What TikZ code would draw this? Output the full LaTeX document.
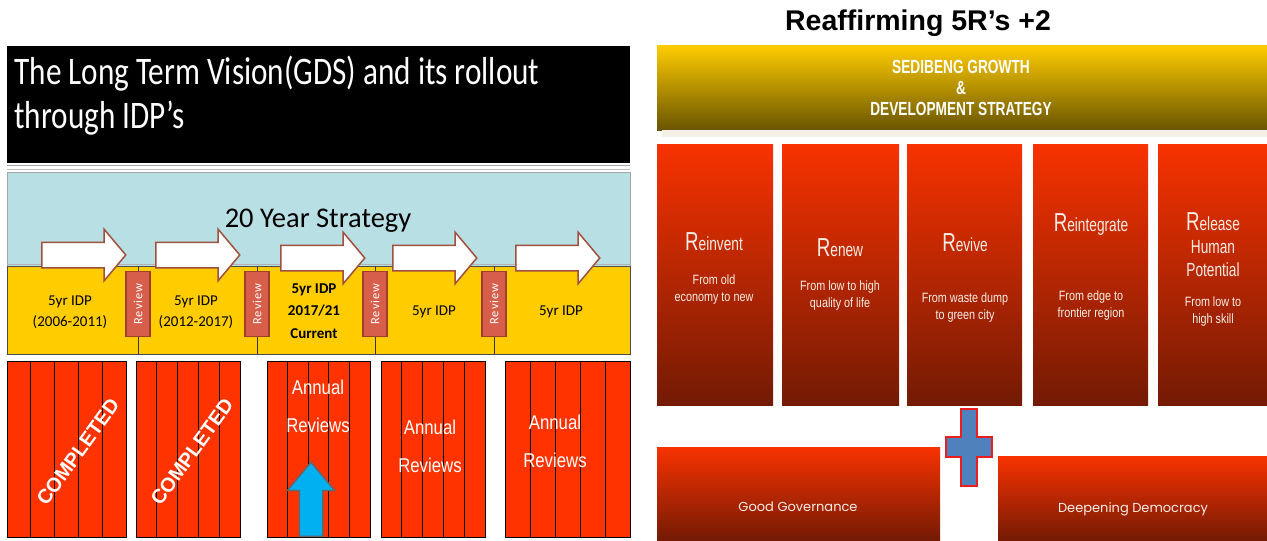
\documentclass[tikz,border=0pt]{standalone}
\usepackage{fontspec}
\usetikzlibrary{shapes.arrows}
\newfontfamily\calfont{Carlito}
\newfontfamily\calnarrow[FakeStretch=0.8]{Carlito}
\newfontfamily\calwide[LetterSpace=8]{Carlito}
\newfontfamily\arialfont{Liberation Sans}
\newfontfamily\narrowfont[FakeStretch=0.84]{Liberation Sans}
\newfontfamily\condfont[FakeStretch=0.72]{Liberation Sans}
\newfontfamily\subfont[FakeStretch=0.8]{Liberation Sans}
\newfontfamily\gothfont{Poppins}
\definecolor{skyband}{RGB}{184,223,227}
\definecolor{idpyellow}{RGB}{255,204,0}
\definecolor{reviewred}{RGB}{214,94,74}
\definecolor{reviewedge}{RGB}{160,62,46}
\definecolor{arrowedge}{RGB}{160,80,62}
\definecolor{blockred}{RGB}{255,51,0}
\definecolor{coltop}{RGB}{248,50,0}
\definecolor{colbottom}{RGB}{115,26,4}
\definecolor{goldtop}{RGB}{255,204,0}
\definecolor{goldbottom}{RGB}{105,84,0}
\definecolor{upblue}{RGB}{0,176,240}
\definecolor{plusblue}{RGB}{79,129,189}
\definecolor{plusedge}{RGB}{235,30,30}
\definecolor{beige}{RGB}{243,240,230}
\definecolor{softwhite}{RGB}{246,238,230}
\newcommand\rword[1]{{\fontsize{26}{26}\selectfont R}#1}
\tikzset{
  reviewbox/.style={draw=reviewedge, fill=reviewred, line width=1.5pt, rotate=90, minimum width=65pt, minimum height=24pt, inner sep=0pt, text=white, font=\calwide\fontsize{12.5}{12.5}\selectfont},
  idparrow/.style={single arrow, draw=arrowedge, fill=white, line width=1.5pt, minimum height=84pt, inner xsep=0pt, inner ysep=12pt, single arrow head extend=13pt, single arrow tip angle=100, anchor=tail},
  idptext/.style={font=\calfont\fontsize{15}{21}\selectfont, align=center},
  redblock/.style={draw=black, fill=blockred, line width=0.6pt},
  annual/.style={text=white, font=\narrowfont\fontsize{20}{38}\selectfont, align=center},
  done/.style={text=white, rotate=54, font=\arialfont\bfseries\fontsize{20}{20}\selectfont},
  rcol/.style={top color=coltop, bottom color=colbottom, minimum height=261pt, inner sep=0pt, anchor=north west},
  rhead/.style={text=softwhite, font=\condfont\fontsize{19}{23}\selectfont, align=center},
  rsub/.style={text=softwhite, font=\subfont\fontsize{13.5}{17}\selectfont, align=center},
  rwide/.style={top color=coltop, bottom color=colbottom, inner sep=0pt, anchor=north west},
  rwidetext/.style={text=softwhite, font=\gothfont\fontsize{13}{16}\selectfont}
}
\begin{document}
\begin{tikzpicture}[x=1pt, y=-1pt]
\useasboundingbox (0,0) rectangle (1267,541);
\node[fill=black, minimum width=623, minimum height=117, inner sep=0pt, anchor=north west] (visionbox) at (7,46) {};
\node[text=white, anchor=base west, font=\calnarrow\fontsize{39}{39}\selectfont] (visionline1) at (11,84) {The Long Term Vision(GDS) and its rollout};
\node[text=white, anchor=base west, font=\calnarrow\fontsize{39}{39}\selectfont] (visionline2) at (11,128) {through IDP’s};
\draw[gray!70, line width=1pt] (7,165.5) -- (630,165.5);
\draw[gray!50, line width=0.8pt] (7,169.5) -- (630,169.5);
\node[fill=skyband, draw=gray!70, minimum width=623, minimum height=94, inner sep=0pt, anchor=north west] (strategyband) at (7,172) {};
\node[fill=idpyellow, draw=black!70, minimum width=623, minimum height=88, inner sep=0pt, anchor=north west] (idpband) at (7,266) {};
\draw[gray!60] (7,264) -- (630,264);
\node[font=\calfont\fontsize{28.5}{28.5}\selectfont] (strategy) at (318,221) {20 Year Strategy};
\foreach \x in {138,257,375,494}
  \draw[black!80] (\x,266) -- (\x,354);
\node[idparrow] (arr1) at (41,255) {};
\node[idparrow] (arr2) at (155,255) {};
\node[idparrow] (arr3) at (280,258) {};
\node[idparrow] (arr4) at (392,258) {};
\node[idparrow] (arr5) at (515,258) {};
\node[reviewbox] (rev1) at (138,304) {Review};
\node[reviewbox] (rev2) at (257,304) {Review};
\node[reviewbox] (rev3) at (375,304) {Review};
\node[reviewbox] (rev4) at (494,304) {Review};
\node[idptext] (idp1) at (70,312) {5yr IDP\\(2006-2011)};
\node[idptext] (idp2) at (196,312) {5yr IDP\\(2012-2017)};
\node[idptext, font=\calfont\bfseries\fontsize{15}{22.5}\selectfont] (idp3) at (314,311) {5yr IDP\\2017/21\\Current};
\node[idptext] (idp4) at (434,312) {5yr IDP};
\node[idptext] (idp5) at (561,312) {5yr IDP};
\foreach \xa/\xb in {7/126,136/240,267/370,381/485,505/630}{
  \draw[redblock] (\xa,361) rectangle (\xb,537);
  \foreach \k in {1,...,4}
    \draw[black, line width=0.8pt] ({\xa+\k*(\xb-\xa)/5},361) -- ({\xa+\k*(\xb-\xa)/5},537);
}
\node[done] (done1) at (78,452) {COMPLETED};
\node[done] (done2) at (192,452) {COMPLETED};
\node[single arrow, rotate=90, draw=gray!80!black, fill=upblue, line width=1.5pt, minimum height=74pt, inner xsep=0pt, inner ysep=11pt, single arrow head extend=12pt, single arrow tip angle=80, anchor=tail] (uparrow) at (311,537) {};
\node[annual] (annual3) at (318,406) {Annual\\Reviews};
\node[annual] (annual4) at (430,446) {Annual\\Reviews};
\node[annual] (annual5) at (555,441) {Annual\\Reviews};
\node[font=\arialfont\bfseries\fontsize{28.5}{28.5}\selectfont] (fivertitle) at (918,23) {Reaffirming 5R’s +2};
\node[top color=goldtop, bottom color=goldbottom, minimum width=610, minimum height=85, inner sep=0pt, anchor=north west] (sgds) at (657,45) {};
\node[text=white, font=\condfont\bfseries\fontsize{19}{21}\selectfont, align=center] (sgdstext) at (961,88) {SEDIBENG GROWTH\\\&\\DEVELOPMENT STRATEGY};
\fill[beige] (662,130) rectangle (1267,137);
\node[rcol, minimum width=116] (col1) at (657,144) {};
\node[rcol, minimum width=117] (col2) at (782,144) {};
\node[rcol, minimum width=115] (col3) at (907,144) {};
\node[rcol, minimum width=115] (col4) at (1033,144) {};
\node[rcol, minimum width=109] (col5) at (1158,144) {};
\node[rhead] (head1) at (714,242) {\rword{einvent}};
\node[rhead] (head2) at (840,248) {\rword{enew}};
\node[rhead] (head3) at (965,243) {\rword{evive}};
\node[rhead] (head4) at (1091,225) {\rword{eintegrate}};
\node[rhead] (head5) at (1213,245) {\rword{elease}\\Human\\Potential};
\node[rsub] (sub1) at (714,290) {From old\\economy to new};
\node[rsub] (sub2) at (840,296) {From low to high\\quality of life};
\node[rsub] (sub3) at (965,308) {From waste dump\\to green city};
\node[rsub] (sub4) at (1091,306) {From edge to\\frontier region};
\node[rsub] (sub5) at (1213,312) {From low to\\high skill};
\draw[draw=plusedge, fill=plusblue, line width=1.5pt] (961,409) -- (977,409) -- (977,437) -- (992,437) -- (992,457) -- (977,457) -- (977,486) -- (961,486) -- (961,457) -- (946,457) -- (946,437) -- (961,437) -- cycle;
\node[rwide, minimum width=283, minimum height=94] (govbox) at (657,447) {};
\node[rwide, minimum width=269, minimum height=85] (demobox) at (998,456) {};
\node[rwidetext] (govtext) at (798,507) {Good Governance};
\node[rwidetext] (demotext) at (1133,509) {Deepening Democracy};
\end{tikzpicture}
\end{document}
